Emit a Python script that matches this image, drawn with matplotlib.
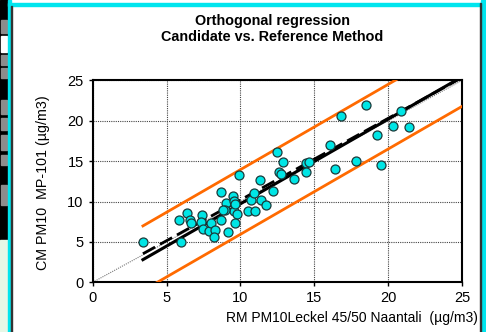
import matplotlib
matplotlib.use("Agg")
import matplotlib.pyplot as plt
from matplotlib.patches import Rectangle
import numpy as np

plt.rcParams['font.family'] = ['Liberation Sans', 'DejaVu Sans']

# Reference method (x) and candidate method (y) values, µg/m3
rm_values = [3.42, 6.0, 5.86, 6.4, 6.62, 6.68, 7.37, 7.3, 7.44, 7.85,
             8.0, 8.3, 8.22, 8.7, 8.69, 9.03, 9.19, 9.49, 9.55, 9.55,
             9.66, 9.76, 9.6, 10.5, 11.02, 10.75, 10.95, 11.42, 11.73, 12.18,
             11.35, 9.92, 12.5, 12.9, 12.64, 12.76, 13.62, 14.42, 14.67, 14.47,
             16.05, 16.8, 18.52, 20.9, 20.3, 21.4, 19.24, 17.84, 16.4, 19.53,
             8.95, 8.8]
cm_values = [4.95, 5.05, 7.68, 8.55, 7.68, 7.38, 8.35, 7.47, 6.6, 6.4,
             7.4, 6.5, 5.58, 7.7, 11.18, 9.78, 6.27, 10.7, 10.05, 8.82,
             9.75, 8.5, 7.35, 8.82, 8.82, 10.25, 11.1, 10.22, 9.6, 11.3,
             12.68, 13.23, 16.15, 14.9, 13.67, 13.35, 12.76, 14.8, 14.9, 13.6,
             17.05, 20.6, 21.9, 21.15, 19.3, 19.2, 18.3, 15.08, 14.0, 14.5,
             9.0, 8.9]

# Line parameters (slope, intercept)
orth_fit = (1.048, -0.76)
alt_fit = (1.01, 0.1)
upper_band = (1.056, 3.39)
lower_band = (1.056, -4.62)
line_x_range = (3.4, 25.0)

axis_ticks = [0, 5, 10, 15, 20, 25]
title_text = "Orthogonal regression\nCandidate vs. Reference Method"
xlabel_text = "RM PM10Leckel 45/50 Naantali  (\u00b5g/m3)"
ylabel_text = "CM PM10  MP-101 (\u00b5g/m3)"

fig = plt.figure(figsize=(4.86, 3.32), dpi=100)
fig.patch.set_facecolor('white')

# window decorations
W, H = 486, 332
def px_rect(x0, y0, w, h, color):
    fig.patches.append(Rectangle((x0 / W, 1 - (y0 + h) / H), w / W, h / H,
                                 transform=fig.transFigure, color=color, zorder=0))
px_rect(0, 0, 8, 240, 'black')
for (ya, yb) in [(20, 33), (55, 65), (68, 78), (100, 114), (118, 130), (135, 150), (155, 165), (185, 205)]:
    px_rect(1, ya, 6, yb - ya, '#8c8c8c')
px_rect(1, 36, 6, 16, 'white')
px_rect(0, 240, 8, 92, '#e6f7e6')
px_rect(8, 0, 2.5, H, '#00e5ee')
px_rect(8, 3, 476, 2.5, '#00e5ee')
px_rect(481, 0, 5, H, '#00e5ee')
px_rect(480, 3, 1, H, '#333333')
px_rect(10.5, 5.5, 1, H, '#333333')

ax = fig.add_axes([92.7 / W, 1 - 282.3 / H, (462 - 92.7) / W, (282.3 - 80.4) / H])
ax.set_xlim(0, 25)
ax.set_ylim(0, 25)
ax.set_xticks(axis_ticks)
ax.set_yticks(axis_ticks)
ax.tick_params(labelsize=10.5, length=3, direction='out', width=1)
ax.grid(True, color='#444444', linestyle=(0, (1, 1)), linewidth=0.8)
for s in ax.spines.values():
    s.set_linewidth(1.5)
    s.set_color('black')

# 1:1 line
ax.plot([0, 25], [0, 25], color='#777777', linestyle=(0, (1, 1)), linewidth=0.8, zorder=2)

xs = np.array(line_x_range)
ax.plot(xs, upper_band[0] * xs + upper_band[1], color='#ff6a00', linewidth=2.0, zorder=3)
ax.plot(xs, lower_band[0] * xs + lower_band[1], color='#ff6a00', linewidth=2.0, zorder=3)
ax.plot(xs, alt_fit[0] * xs + alt_fit[1], color='black', linewidth=2.0,
        dashes=(5, 2), zorder=4)
ax.plot(xs, orth_fit[0] * xs + orth_fit[1], color='black', linewidth=2.2, zorder=4)

ax.scatter(rm_values, cm_values, s=42, facecolor='#00e5e5', edgecolor='#1a3a3a',
           linewidth=0.9, zorder=5)

fig.text(272 / W, 1 - 29 / H, title_text, ha='center', va='center',
         fontsize=10.4, fontweight='bold', linespacing=1.25)
fig.text(478 / W, 1 - 318 / H, xlabel_text, ha='right', va='center', fontsize=10)
fig.text(43 / W, 1 - 183 / H, ylabel_text, ha='center', va='center',
         rotation=90, fontsize=10.3)

fig.savefig('out.png', dpi=100, facecolor='white')
